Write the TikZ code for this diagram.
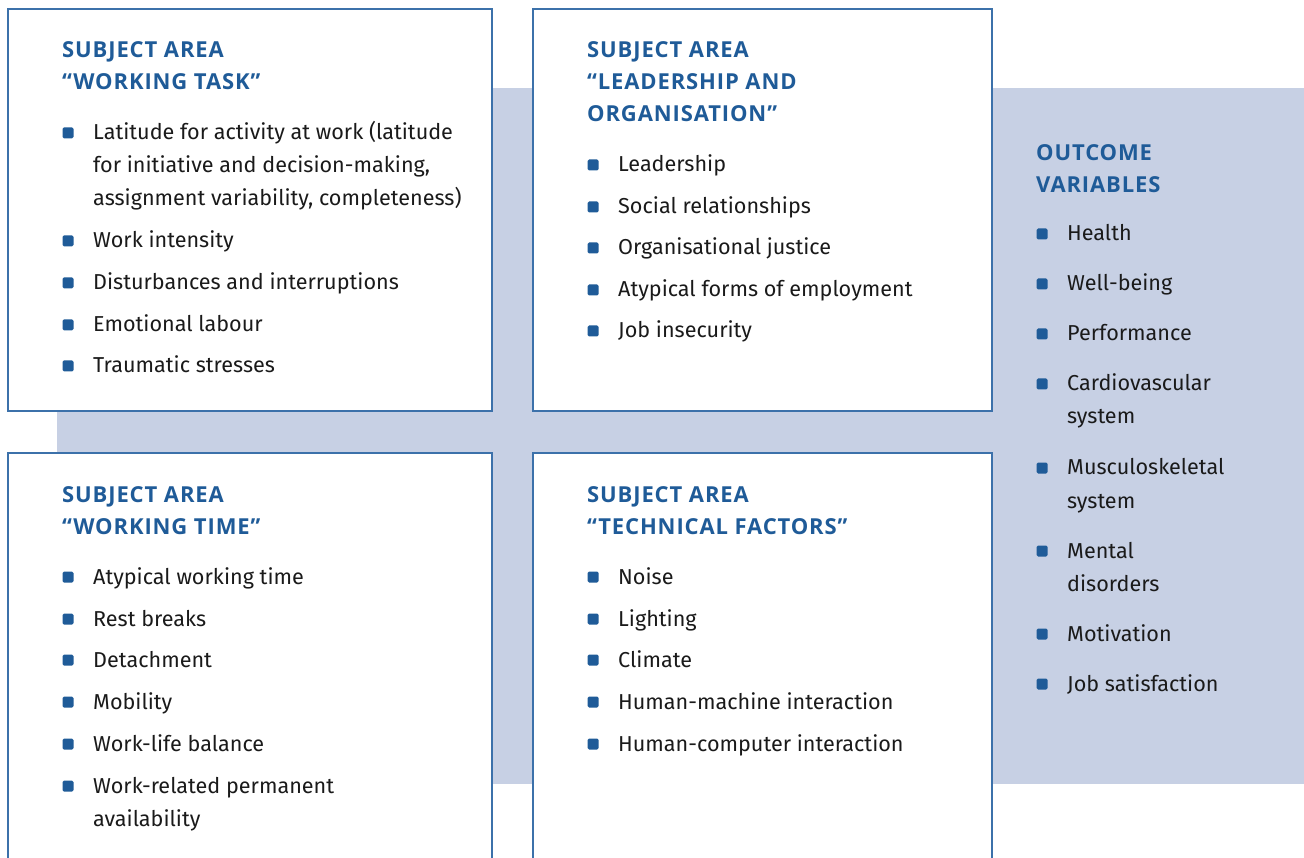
\documentclass[tikz,border=0pt]{standalone}
\usepackage{fontspec}
\setmainfont{Fira Sans}
\newfontfamily\ttlfont{Open Sans}[LetterSpace=4]
\definecolor{band}{HTML}{C7D0E4}
\definecolor{frame}{HTML}{3C71AA}
\definecolor{ttlc}{HTML}{1F5B98}
\definecolor{txtc}{HTML}{1A1A1A}
\tikzset{
  box/.style={draw=frame,line width=1.3pt,fill=white},
  ttl/.style={anchor=base west,inner sep=0pt,font=\ttlfont\bfseries\fontsize{22}{32}\selectfont,text=ttlc},
  itm/.style={anchor=base west,inner sep=0pt,font=\fontsize{21.6}{33}\selectfont,text=txtc},
  bul/.style={fill=ttlc,rounded corners=1.5pt,minimum size=11pt,inner sep=0pt}
}
\newcommand\ml[2]{\vtop{\baselineskip=#1pt\halign{##\hfil\cr#2\crcr}}}
\newcommand\bitem[5]{%
  \node[bul] (#1b) at (#2,#4) {};
  \node[itm] (#1) at (#3,#4+7) {\ml{33}{#5}};}
\begin{document}
\begin{tikzpicture}[x=1pt,y=-1pt]
\useasboundingbox (0,0) rectangle (1304,858);
\clip (0,0) rectangle (1304,858);
\fill[band] (57,88) rectangle (1304,784);
\draw[box] (8,9) rectangle (492,411);
\draw[box] (533,9) rectangle (992,411);
\draw[box] (8,453) rectangle (492,880);
\draw[box] (533,453) rectangle (992,880);
% box 1
\node[ttl] (t1) at (62,57.5) {\ml{32}{SUBJECT AREA\cr “WORKING TASK”}};
\bitem{a1}{68}{93}{133}{Latitude for activity at work (latitude\cr for initiative and decision-making,\cr assignment variability, completeness)}
\bitem{a2}{68}{93}{241}{Work intensity}
\bitem{a3}{68}{93}{283}{Disturbances and interruptions}
\bitem{a4}{68}{93}{325}{Emotional labour}
\bitem{a5}{68}{93}{366}{Traumatic stresses}
% box 2
\node[ttl] (t2) at (587,57.5) {\ml{32}{SUBJECT AREA\cr “LEADERSHIP AND\cr ORGANISATION”}};
\bitem{b1}{593}{618}{165}{Leadership}
\bitem{b2}{593}{618}{207}{Social relationships}
\bitem{b3}{593}{618}{248}{Organisational justice}
\bitem{b4}{593}{618}{290}{Atypical forms of employment}
\bitem{b5}{593}{618}{331}{Job insecurity}
% box 3
\node[ttl] (t3) at (62,502.5) {\ml{32}{SUBJECT AREA\cr “WORKING TIME”}};
\bitem{c1}{68}{93}{577}{Atypical working time}
\bitem{c2}{68}{93}{619}{Rest breaks}
\bitem{c3}{68}{93}{660}{Detachment}
\bitem{c4}{68}{93}{702}{Mobility}
\bitem{c5}{68}{93}{744}{Work-life balance}
\bitem{c6}{68}{93}{786}{Work-related permanent\cr availability}
% box 4
\node[ttl] (t4) at (587,502.5) {\ml{32}{SUBJECT AREA\cr “TECHNICAL FACTORS”}};
\bitem{d1}{593}{618}{577}{Noise}
\bitem{d2}{593}{618}{619}{Lighting}
\bitem{d3}{593}{618}{660}{Climate}
\bitem{d4}{593}{618}{702}{Human-machine interaction}
\bitem{d5}{593}{618}{744}{Human-computer interaction}
% outcome
\node[ttl] (t5) at (1036,160.5) {\ml{32}{OUTCOME\cr VARIABLES}};
\bitem{e1}{1042}{1067}{234}{Health}
\bitem{e2}{1042}{1067}{284}{Well-being}
\bitem{e3}{1042}{1067}{334}{Performance}
\bitem{e4}{1042}{1067}{384}{Cardiovascular\cr system}
\bitem{e5}{1042}{1067}{468}{Musculoskeletal\cr system}
\bitem{e6}{1042}{1067}{551}{Mental\cr disorders}
\bitem{e7}{1042}{1067}{634}{Motivation}
\bitem{e8}{1042}{1067}{684}{Job satisfaction}
\end{tikzpicture}
\end{document}
